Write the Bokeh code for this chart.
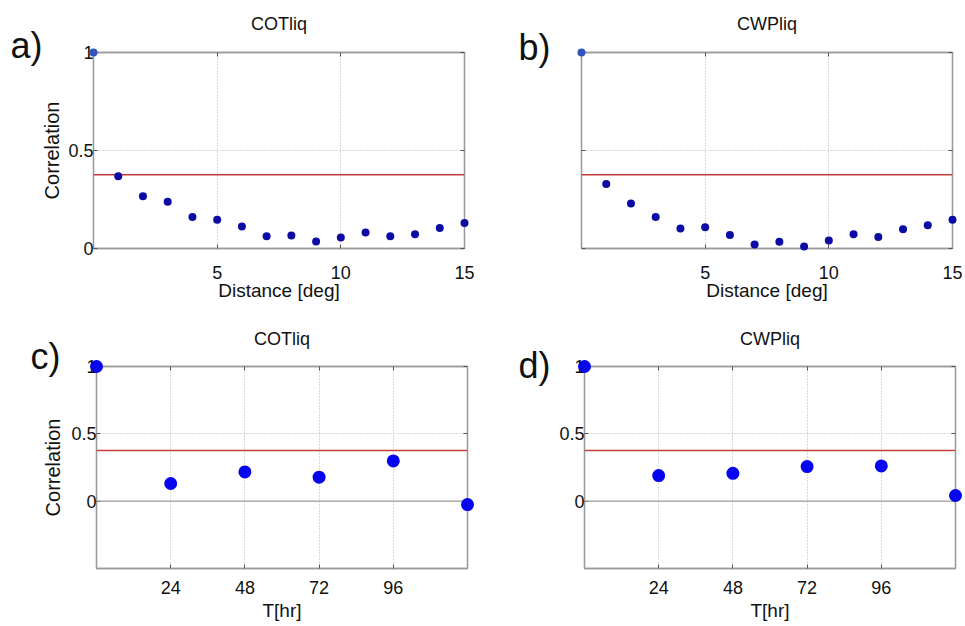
from bokeh.plotting import figure
from bokeh.layouts import column, row
from bokeh.models import FixedTicker, Span, Range1d, LinearAxis
from bokeh.core.properties import value
from bokeh.embed import file_html
from bokeh.resources import INLINE

# ---------------- data ----------------
dist_deg = list(range(16))
cot_dist = [1.0, 0.368, 0.266, 0.239, 0.161, 0.147, 0.112, 0.063, 0.066,
            0.036, 0.056, 0.081, 0.063, 0.073, 0.105, 0.130]
cwp_dist = [1.0, 0.329, 0.229, 0.161, 0.102, 0.108, 0.069, 0.020, 0.034,
            0.010, 0.041, 0.073, 0.059, 0.098, 0.119, 0.147]
lag_hr = [0, 24, 48, 72, 96, 120]
cot_lag = [1.0, 0.131, 0.217, 0.178, 0.299, -0.025]
cwp_lag = [1.0, 0.190, 0.207, 0.257, 0.262, 0.042]
threshold = 0.376
dist_ticks = [5, 10, 15]
lag_ticks = [24, 48, 72, 96]
corr_ticks = [0, 0.5, 1]
corr_tick_labels = ["0", "0.5", "1"]
titles = ["COTliq", "CWPliq", "COTliq", "CWPliq"]
panel_tags = ["a)", "b)", "c)", "d)"]
dist_label = "Distance [deg]"
lag_label = "T[hr]"
corr_label = "Correlation"

FONT = "Liberation Sans"
FRAME_GRAY = "#9a9a9a"
GRID_GRAY = "#b4b4b4"
TICK_COLOR = "#555555"
TITLE_GAP = 29  # px between frame top and the centre of the panel title


def mirror_axis(ticks):
    ax = LinearAxis(ticker=FixedTicker(ticks=ticks))
    ax.axis_line_color = FRAME_GRAY
    ax.axis_line_width = 1.3
    ax.major_tick_in = 4
    ax.major_tick_out = 0
    ax.major_tick_line_color = TICK_COLOR
    ax.minor_tick_line_color = None
    ax.major_label_standoff = 0
    ax.major_label_text_font_size = "0px"
    ax.major_label_overrides = {t: "" for t in ticks}
    return ax


def panel(xs, ys, xr, yr, xticks, title, tag, xlabel, ylabel, show_ylabels,
          w, h, bl, br, bt, bb, tag_dx, tag_dy, msize, mcolor, first_color,
          zero_line, tick_standoff, xlabel_standoff, ylabel_standoff,
          title_gap):
    p = figure(width=w, height=h, output_backend="svg", toolbar_location=None,
               x_range=Range1d(*xr), y_range=Range1d(*yr),
               min_border_left=bl, min_border_right=br,
               min_border_top=bt, min_border_bottom=bb,
               background_fill_color="white", border_fill_color="white")
    p.outline_line_color = FRAME_GRAY
    p.outline_line_width = 1.3

    for ax in (p.xaxis[0], p.yaxis[0]):
        ax.axis_line_color = FRAME_GRAY
        ax.axis_line_width = 1.3
        ax.major_tick_in = 4
        ax.major_tick_out = 0
        ax.major_tick_line_color = TICK_COLOR
        ax.minor_tick_line_color = None
        ax.major_label_text_font = FONT
        ax.major_label_text_font_size = "18px"
        ax.major_label_text_color = "#111111"
        ax.axis_label_text_font = FONT
        ax.axis_label_text_font_style = "normal"
        ax.axis_label_text_color = "#111111"

    p.xaxis.ticker = FixedTicker(ticks=xticks)
    p.xaxis.major_label_standoff = tick_standoff
    p.xaxis.axis_label = xlabel
    p.xaxis.axis_label_text_font_size = "19px"
    p.xaxis.axis_label_standoff = xlabel_standoff

    p.yaxis.ticker = FixedTicker(ticks=corr_ticks)
    p.yaxis.major_label_standoff = 0
    if show_ylabels:
        p.yaxis.major_label_overrides = {t: s for t, s in zip(corr_ticks, corr_tick_labels)}
    else:
        p.yaxis.major_label_overrides = {t: "" for t in corr_ticks}
    if ylabel:
        p.yaxis.axis_label = ylabel
        p.yaxis.axis_label_text_font_size = "20px"
        p.yaxis.axis_label_standoff = ylabel_standoff

    # MATLAB-style box ticks on the opposite sides
    p.add_layout(mirror_axis(corr_ticks), "right")
    p.add_layout(mirror_axis(xticks), "above")

    p.xgrid.ticker = FixedTicker(ticks=xticks)
    p.ygrid.ticker = FixedTicker(ticks=[0.5])
    for g in (p.xgrid[0], p.ygrid[0]):
        g.grid_line_color = GRID_GRAY
        g.grid_line_dash = "1 2"
        g.grid_line_width = 1

    if zero_line:
        p.add_layout(Span(location=0, dimension="width",
                          line_color=FRAME_GRAY, line_width=1.3))

    p.add_layout(Span(location=threshold, dimension="width",
                      line_color="#c43c3c", line_width=1.6))

    colors = [first_color] + [mcolor] * (len(xs) - 1)
    p.scatter(xs, ys, size=msize, color=colors, line_color=None,
              level="overlay")

    frame_w = w - bl - br
    frame_h = h - bt - bb
    px_x = (xr[1] - xr[0]) / frame_w
    px_y = (yr[1] - yr[0]) / frame_h

    # panel title, centred above the frame
    p.text(x=[(xr[0] + xr[1]) / 2], y=[yr[1] + title_gap * px_y], text=[title],
           text_font=value(FONT), text_font_size="18px", text_align="center",
           text_baseline="middle", text_color="#111111", level="overlay")

    # panel tag a) b) c) d)
    p.text(x=[xr[0] + tag_dx * px_x], y=[yr[1] - tag_dy * px_y], text=[tag],
           text_font=value(FONT), text_font_size="36px", text_align="left",
           text_baseline="alphabetic", text_color="#111111", level="overlay")
    return p


DARK = "#0c0ca4"
LIGHT = "#3553bd"
BRIGHT = "#0505ee"

pa = panel(dist_deg, cot_dist, (0, 15), (0, 1), dist_ticks, titles[0],
           panel_tags[0], dist_label, corr_label, True,
           488, 318, 93, 24, 52, 70, -83, -7, 8, DARK, LIGHT, False, 17, -2, 2,
           TITLE_GAP)
pb = panel(dist_deg, cwp_dist, (0, 15), (0, 1), dist_ticks, titles[1],
           panel_tags[1], dist_label, None, False,
           476, 318, 93, 12, 52, 70, -63, -5, 8, DARK, LIGHT, False, 17, -2, 2,
           TITLE_GAP)
pc = panel(lag_hr, cot_lag, (0, 120), (-0.5, 1), lag_ticks, titles[2],
           panel_tags[2], lag_label, corr_label, True,
           488, 307, 96, 21, 48, 57, -66, -10, 13, BRIGHT, BRIGHT, True, 12, 3, 4,
           TITLE_GAP - 1)
pd = panel(lag_hr, cwp_lag, (0, 120), (-0.5, 1), lag_ticks, titles[3],
           panel_tags[3], lag_label, None, True,
           476, 307, 96, 9, 48, 57, -66, -1, 13, BRIGHT, BRIGHT, True, 12, 3, 4,
           TITLE_GAP - 1)

layout = column(row(pa, pb), row(pc, pd))

with open("out.html", "w") as f:
    f.write(file_html(layout, INLINE))
